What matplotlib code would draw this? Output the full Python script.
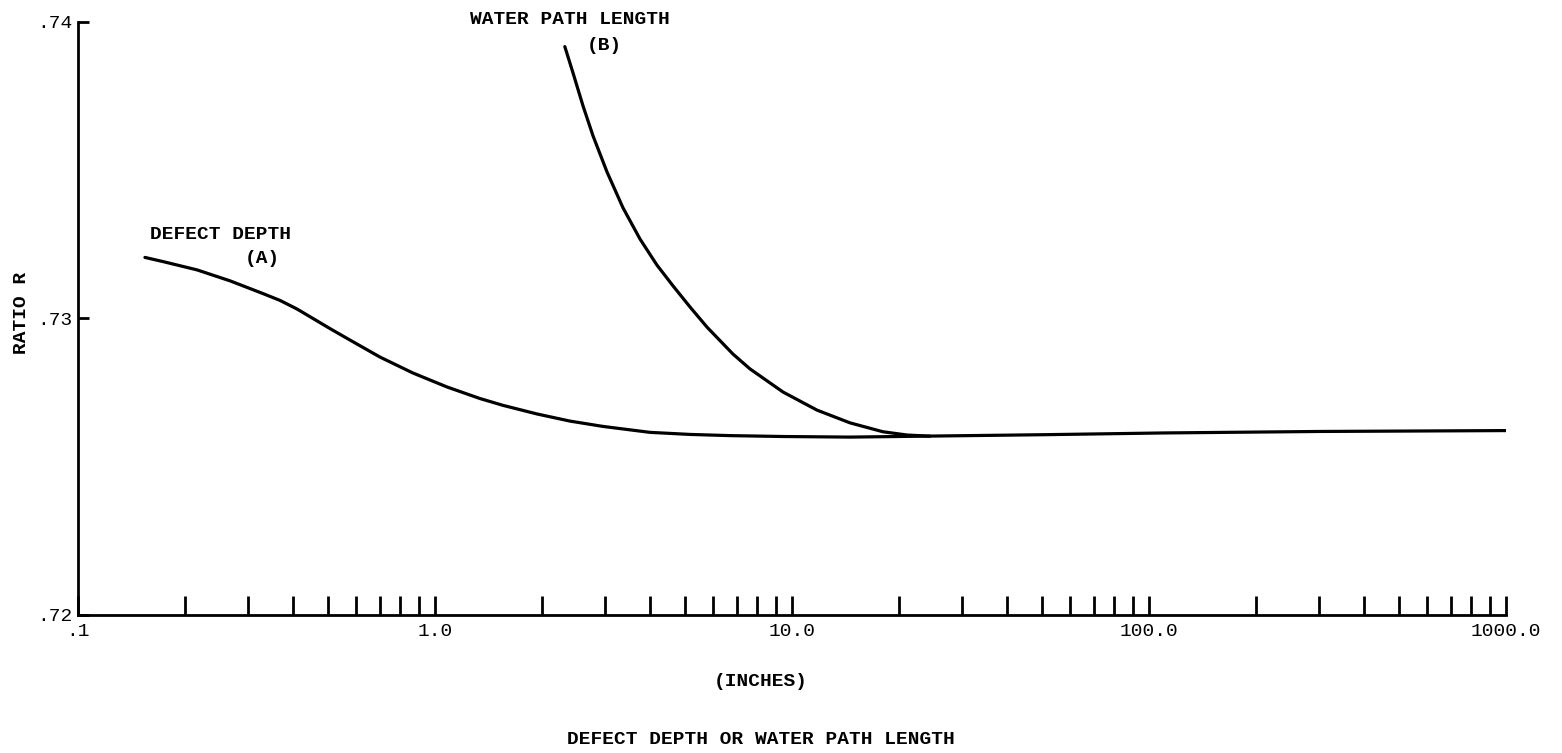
import matplotlib
matplotlib.use("Agg")
import matplotlib.pyplot as plt
from matplotlib.ticker import FixedLocator, NullFormatter, NullLocator

# curve (A): defect depth, inches -> ratio R
depth_in = [0.154, 0.173, 0.2154, 0.2666, 0.3298, 0.368, 0.4107, 0.4553, 0.508, 0.567,
            0.701, 0.868, 1.081, 1.337, 1.551, 1.931, 2.388, 2.955, 4.0, 5.18, 6.7,
            9.44, 14.54, 22.83, 50.0, 110.0, 300.0, 1000.0]
ratio_a = [0.73206, 0.73192, 0.73164, 0.73127, 0.73084, 0.73061, 0.73032, 0.73000,
           0.72966, 0.72933, 0.72870, 0.72816, 0.72769, 0.72730, 0.72707, 0.72678,
           0.72654, 0.72636, 0.72616, 0.72609, 0.72605, 0.72602, 0.72600, 0.72603,
           0.72608, 0.72614, 0.72619, 0.72622]

# curve (B): water path length, inches -> ratio R
water_in = [2.31, 2.436, 2.598, 2.771, 3.033, 3.363, 3.752, 4.186, 4.642, 5.179, 5.779,
            6.834, 7.627, 9.437, 11.75, 14.54, 17.98, 21.0, 24.36]
ratio_b = [0.73917, 0.73828, 0.73717, 0.73616, 0.73494, 0.73373, 0.73268, 0.73180,
           0.73110, 0.73039, 0.72971, 0.72880, 0.72830, 0.72752, 0.72691, 0.72648,
           0.72618, 0.72607, 0.72603]

x_major = [0.1, 1.0, 10.0, 100.0, 1000.0]
x_major_labels = [".1", "1.0", "10.0", "100.0", "1000.0"]
y_ticks = [0.72, 0.73, 0.74]
y_tick_labels = [".72", ".73", ".74"]

mono = "Liberation Mono"

fig = plt.figure(figsize=(15.62, 7.53), dpi=100)
ax = fig.add_axes([78 / 1562, 138 / 753, 1428 / 1562, 593 / 753])

ax.plot(depth_in, ratio_a, color="black", lw=2.3, solid_capstyle="round",
        solid_joinstyle="round")
ax.plot(water_in, ratio_b, color="black", lw=2.3, solid_capstyle="round",
        solid_joinstyle="round")

ax.set_xscale("log")
ax.set_xlim(0.1, 1000)
ax.set_ylim(0.72, 0.74)

# minor ticks 2..9 in each decade plus the decade marks, all pointing up
minor = [m * d for d in (0.1, 1.0, 10.0, 100.0) for m in range(2, 10)]
ax.xaxis.set_major_locator(FixedLocator(x_major))
ax.xaxis.set_minor_locator(FixedLocator(minor))
ax.xaxis.set_minor_formatter(NullFormatter())
ax.set_xticklabels(x_major_labels, fontfamily=mono, fontsize=14)
ax.tick_params(axis="x", which="both", direction="in", length=14, width=2.0, pad=6)

ax.yaxis.set_major_locator(FixedLocator(y_ticks))
ax.yaxis.set_minor_locator(NullLocator())
ax.set_yticklabels(y_tick_labels, fontfamily=mono, fontsize=14)
ax.tick_params(axis="y", direction="in", length=8, width=2.0, pad=4)

for side in ("top", "right"):
    ax.spines[side].set_visible(False)
for side in ("left", "bottom"):
    ax.spines[side].set_linewidth(2.0)

ax.text(0.159, 0.73282, "DEFECT DEPTH", fontfamily=mono, fontweight="bold",
        fontsize=14, ha="left", va="center")
ax.text(0.3276, 0.73204, "(A)", fontfamily=mono, fontweight="bold",
        fontsize=14, ha="center", va="center")
ax.text(1.25, 0.74007, "WATER PATH LENGTH", fontfamily=mono, fontweight="bold",
        fontsize=14, ha="left", va="center", clip_on=False)
ax.text(2.99, 0.73922, "(B)", fontfamily=mono, fontweight="bold",
        fontsize=14, ha="center", va="center")

fig.text(22 / 1562, 1 - 313 / 753, "RATIO R", rotation=90, fontfamily=mono,
         fontweight="bold", fontsize=14, ha="center", va="center")
fig.text(761 / 1562, 1 - 682 / 753, "(INCHES)", fontfamily=mono,
         fontweight="bold", fontsize=14, ha="center", va="center")
fig.text(761 / 1562, 1 - 740 / 753, "DEFECT DEPTH OR WATER PATH LENGTH",
         fontfamily=mono, fontweight="bold", fontsize=14, ha="center", va="center")

fig.savefig("out.png", dpi=100)
